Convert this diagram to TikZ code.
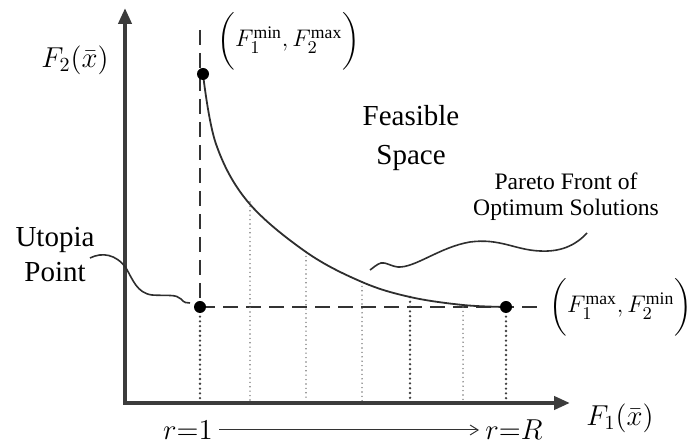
\documentclass[tikz,border=0pt]{standalone}
\usepackage{fontspec}
\setmainfont{Liberation Serif}
\usepackage{amsmath}
\usetikzlibrary{arrows.meta,positioning}
\definecolor{axgrey}{HTML}{3C3C3C}
\definecolor{inkgrey}{HTML}{2E2E2E}
\definecolor{dotgrey}{HTML}{7A7A7A}
\tikzset{
  % akser og front
  ax/.style={draw=axgrey,line width=2pt,line join=miter},
  axtip/.style={{Triangle[length=8pt,width=6.5pt]}-{Triangle[length=8pt,width=6.5pt]}},
  front/.style={draw=inkgrey,line width=0.9pt},
  guide/.style={draw=black!80,line width=0.6pt,dash pattern=on 7.5pt off 4pt},
  drop/.style={draw=dotgrey,line width=0.8pt,line cap=round,dash pattern=on 0pt off 2.2pt},
  dropb/.style={draw=black!75,line width=1.3pt,line cap=round,dash pattern=on 0pt off 2.4pt},
  pt/.style={circle,fill=black,inner sep=0pt,minimum size=6pt},
  % merkelapper
  wave/.style={draw=inkgrey,line width=0.8pt},
  lbl/.style={font=\fontsize{14.5}{17.5}\selectfont,align=center,inner sep=0pt},
  lblm/.style={font=\fontsize{12.6}{15}\selectfont,inner sep=0pt},
  lbls/.style={font=\fontsize{11.8}{12.8}\selectfont,align=center,inner sep=0pt},
  rarr/.style={->,>={Straight Barb[length=4pt,width=5pt]},draw=black!80,line width=0.5pt,
               shorten <=3pt,shorten >=3pt},
}
\begin{document}
\begin{tikzpicture}[x=0.5pt,y=0.5pt]
  \useasboundingbox (0,0) rectangle (691,444);
  \coordinate (o) at (125,41);
  \coordinate (ytop) at (125,436);
  \coordinate (xend) at (570,41);
  \coordinate (u) at (200,137);
  \coordinate (fmax) at (203,370);
  \coordinate (fmin) at (506,137);
  \coordinate (vtop) at (200,414);
  \coordinate (hend) at (543,137);
  % stiplede hjelpelinjer
  \draw[guide] (vtop) -- (u);
  \draw[guide] (u) -- (hend);
  \foreach \x/\y in {250/242,306/192,362/162,463/137}
    \draw[drop] (\x,\y) -- (\x,41);
  \draw[dropb] (u) -- (200,41);
  \draw[dropb] (410,147) -- (410,41);
  \draw[dropb] (fmin) -- (506,41);
  % paretofronten
  \draw[front] plot[smooth,tension=0.6] coordinates {(fmax) (216,300) (248,242)
    (306,192) (362,162) (410,147) (463,139) (fmin)};
  \draw[ax,axtip] (ytop) -- (o) -- (xend);
  \node[pt] (pu) at (u) {};
  \node[pt] (pmax) at (fmax) {};
  \node[pt] (pmin) at (fmin) {};
  % tekst
  \node[lbl] (f2) at (75,384) {$F_2(\bar{x})$};
  \node[lblm,anchor=west] (lmax) at (217,403) {$\bigg(F_1^{\min},F_2^{\max}\bigg)$};
  \node[lbl] (feas) at (411,306) {Feasible\\[2pt]Space};
  \node[lbls] (pareto) at (566,247) {Pareto Front of\\Optimum Solutions};
  \node[lbl] (utopia) at (55,189) {Utopia\\Point};
  \node[lblm,anchor=west] (lmin) at (549,137) {$\bigg(F_1^{\max},F_2^{\min}\bigg)$};
  \node[lbl] (f1) at (620,26) {$F_1(\bar{x})$};
  \node[lbl] (r1) at (188,14) {$r{=}1$};
  \node[lbl] (rR) at (514,14) {$r{=}R$};
  \draw[rarr] (r1) -- (rR);
  % bølgete piler
  \coordinate (uw1) at (90,186);
  \coordinate (uw2) at (190,141);
  \draw[wave] (uw1) .. controls (102,192) and (116,190) .. (126,176)
    .. controls (133,164) and (137,151) .. (152,149)
    .. controls (168,148) and (176,150) .. (181,145)
    .. controls (184,141) and (187,141) .. (uw2);
  \coordinate (pw1) at (587,211);
  \coordinate (pw2) at (370,174);
  \draw[wave] (pw1) .. controls (575,198) and (560,192) .. (540,193)
    .. controls (515,194) and (500,206) .. (470,202)
    .. controls (440,197) and (415,176) .. (398,177)
    .. controls (390,178) and (386,182) .. (381,181)
    .. controls (377,180) and (373,176) .. (pw2);
\end{tikzpicture}
\end{document}
